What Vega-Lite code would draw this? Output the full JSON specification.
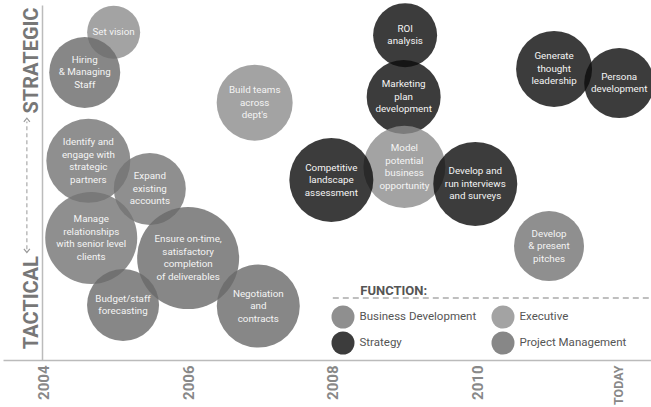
{
  "$schema": "https://vega.github.io/schema/vega-lite/v6.json",
  "width": 648,
  "height": 355,
  "autosize": {"type": "none"},
  "padding": {"left": 3, "top": 5, "right": 0, "bottom": 47},
  "background": "white",
  "config": {
    "view": {"stroke": null},
    "font": "Roboto"
  },
  "datasets": {
    "bubbles": [
      {"activity": "Set vision", "lines": ["Set vision"], "year": 2004.97, "level": 92.3, "weight": 53, "function": "Executive"},
      {"activity": "Hiring & Managing Staff", "lines": ["Hiring", "& Managing", "Staff"], "year": 2004.57, "level": 81.0, "weight": 71, "function": "Project Management"},
      {"activity": "Build teams across dept's", "lines": ["Build teams", "across", "dept's"], "year": 2006.92, "level": 72.5, "weight": 76, "function": "Executive"},
      {"activity": "ROI analysis", "lines": ["ROI", "analysis"], "year": 2009.0, "level": 91.5, "weight": 64, "function": "Strategy"},
      {"activity": "Marketing plan development", "lines": ["Marketing", "plan", "development"], "year": 2008.98, "level": 74.1, "weight": 74, "function": "Strategy"},
      {"activity": "Model potential business opportunity", "lines": ["Model", "potential", "business", "opportunity"], "year": 2008.99, "level": 54.4, "weight": 82, "function": "Executive"},
      {"activity": "Competitive landscape assessment", "lines": ["Competitive", "landscape", "assessment"], "year": 2007.98, "level": 50.7, "weight": 84, "function": "Strategy"},
      {"activity": "Develop and run interviews and surveys", "lines": ["Develop and", "run interviews", "and surveys"], "year": 2009.97, "level": 49.6, "weight": 84, "function": "Strategy"},
      {"activity": "Generate thought leadership", "lines": ["Generate", "thought", "leadership"], "year": 2011.06, "level": 82.0, "weight": 76, "function": "Strategy"},
      {"activity": "Persona development", "lines": ["Persona", "development"], "year": 2011.96, "level": 78.0, "weight": 70, "function": "Strategy"},
      {"activity": "Develop & present pitches", "lines": ["Develop", "& present", "pitches"], "year": 2010.99, "level": 32.1, "weight": 70, "function": "Business Development"},
      {"activity": "Identify and engage with strategic partners", "lines": ["Identify and", "engage with", "strategic", "partners"], "year": 2004.62, "level": 56.1, "weight": 84, "function": "Business Development"},
      {"activity": "Expand existing accounts", "lines": ["Expand", "existing", "accounts"], "year": 2005.47, "level": 48.2, "weight": 72, "function": "Business Development"},
      {"activity": "Manage relationships with senior level clients", "lines": ["Manage", "relationships", "with senior level", "clients"], "year": 2004.66, "level": 34.4, "weight": 92, "function": "Business Development"},
      {"activity": "Ensure on-time, satisfactory completion of deliverables", "lines": ["Ensure on-time,", "satisfactory", "completion", "of deliverables"], "year": 2006.0, "level": 28.7, "weight": 102, "function": "Project Management"},
      {"activity": "Budget/staff forecasting", "lines": ["Budget/staff", "forecasting"], "year": 2005.1, "level": 15.5, "weight": 72, "function": "Project Management"},
      {"activity": "Negotiation and contracts", "lines": ["Negotiation", "and", "contracts"], "year": 2006.97, "level": 15.2, "weight": 83, "function": "Project Management"}
    ]
  },
  "layer": [
    {
      "data": {"name": "bubbles"},
      "mark": {"type": "point", "shape": "circle", "filled": true, "opacity": 0.8, "strokeWidth": 0},
      "encoding": {
        "x": {
          "field": "year", "type": "quantitative", "title": null,
          "scale": {"domain": [2003.44, 2012.4], "nice": false, "zero": false},
          "axis": {
            "values": [2004, 2006, 2008, 2010, 2011.95],
            "labelExpr": "datum.value > 2011 ? 'TODAY' : format(datum.value, 'd')",
            "labelAngle": -90, "labelAlign": "right", "labelBaseline": "middle",
            "labelFontSize": {"condition": {"test": "datum.value > 2011", "value": 12.5}, "value": 15},
            "labelFontWeight": "bold", "labelColor": "#888",
            "labelPadding": 5, "labelFlush": false, "labelOverlap": false, "labelBound": false,
            "ticks": false, "grid": false, "domainColor": "#bbb", "domainWidth": 1.5
          }
        },
        "y": {
          "field": "level", "type": "quantitative", "title": null,
          "scale": {"domain": [0, 100], "nice": false, "zero": false},
          "axis": {
            "values": [16.3, 84.5],
            "labelExpr": "datum.value > 50 ? 'STRATEGIC' : 'TACTICAL'",
            "labelAngle": -90, "labelAlign": "center", "labelBaseline": "alphabetic",
            "labelFontSize": 20, "labelFontWeight": "bold", "labelColor": "#777",
            "labelPadding": 5, "labelFlush": false, "labelOverlap": false, "labelBound": false,
            "offset": -39, "ticks": false, "grid": false, "domainColor": "#bbb", "domainWidth": 1.5
          }
        },
        "size": {
          "field": "weight", "type": "quantitative", "legend": null,
          "scale": {"type": "pow", "exponent": 2, "domain": [0, 100], "range": [0, 10000]}
        },
        "color": {
          "field": "function", "type": "nominal",
          "scale": {
            "domain": ["Business Development", "Strategy", "Executive", "Project Management"],
            "range": ["#737373", "#0b0b0b", "#8c8c8c", "#696969"]
          },
          "legend": {
            "orient": "none", "legendX": 328.5, "legendY": 300.5, "columns": 2,
            "title": null, "symbolType": "circle", "symbolSize": 529, "symbolStrokeWidth": 0,
            "labelFontSize": 11.5, "labelColor": "#555", "labelOffset": 5,
            "columnPadding": 15, "rowPadding": 3, "padding": 0
          }
        }
      }
    },
    {
      "data": {"name": "bubbles"},
      "mark": {"type": "text", "align": "center", "baseline": "middle", "fontSize": 9.8, "lineHeight": 12.5, "color": "#f4f4f4",
        "dy": {"expr": "-(length(datum.lines) - 1) * 6.25"}},
      "encoding": {
        "x": {"field": "year", "type": "quantitative", "title": null},
        "y": {"field": "level", "type": "quantitative", "title": null},
        "text": {"field": "lines", "type": "nominal"}
      }
    },
    {
      "data": {"values": [{}]},
      "mark": {"type": "rule", "strokeDash": [4, 3], "color": "#aaa", "strokeWidth": 1.2},
      "encoding": {
        "x": {"datum": 2003.77, "type": "quantitative"},
        "y": {"datum": 31.2, "type": "quantitative"},
        "y2": {"datum": 67.2}
      }
    },
    {
      "data": {"values": [{}]},
      "mark": {"type": "point", "shape": "M-1,0.6L0,-0.6L1,0.6", "filled": false, "stroke": "#999", "strokeWidth": 1.2, "size": 36, "opacity": 1},
      "encoding": {
        "x": {"datum": 2003.77, "type": "quantitative"},
        "y": {"datum": 67.6, "type": "quantitative"}
      }
    },
    {
      "data": {"values": [{}]},
      "mark": {"type": "point", "shape": "M-1,-0.6L0,0.6L1,-0.6", "filled": false, "stroke": "#999", "strokeWidth": 1.2, "size": 36, "opacity": 1},
      "encoding": {
        "x": {"datum": 2003.77, "type": "quantitative"},
        "y": {"datum": 30.8, "type": "quantitative"}
      }
    },
    {
      "data": {"values": [{}]},
      "mark": {"type": "rule", "strokeDash": [6, 4], "color": "#aaa", "strokeWidth": 1.5},
      "encoding": {
        "x": {"datum": 2008.0, "type": "quantitative"},
        "x2": {"datum": 2012.4},
        "y": {"datum": 17.5, "type": "quantitative"}
      }
    },
    {
      "data": {"values": [{}]},
      "mark": {"type": "text", "text": "FUNCTION:", "align": "left", "baseline": "alphabetic", "fontSize": 13, "fontWeight": "bold", "color": "#555"},
      "encoding": {
        "x": {"datum": 2008.38, "type": "quantitative"},
        "y": {"datum": 18.3, "type": "quantitative"}
      }
    }
  ]
}
